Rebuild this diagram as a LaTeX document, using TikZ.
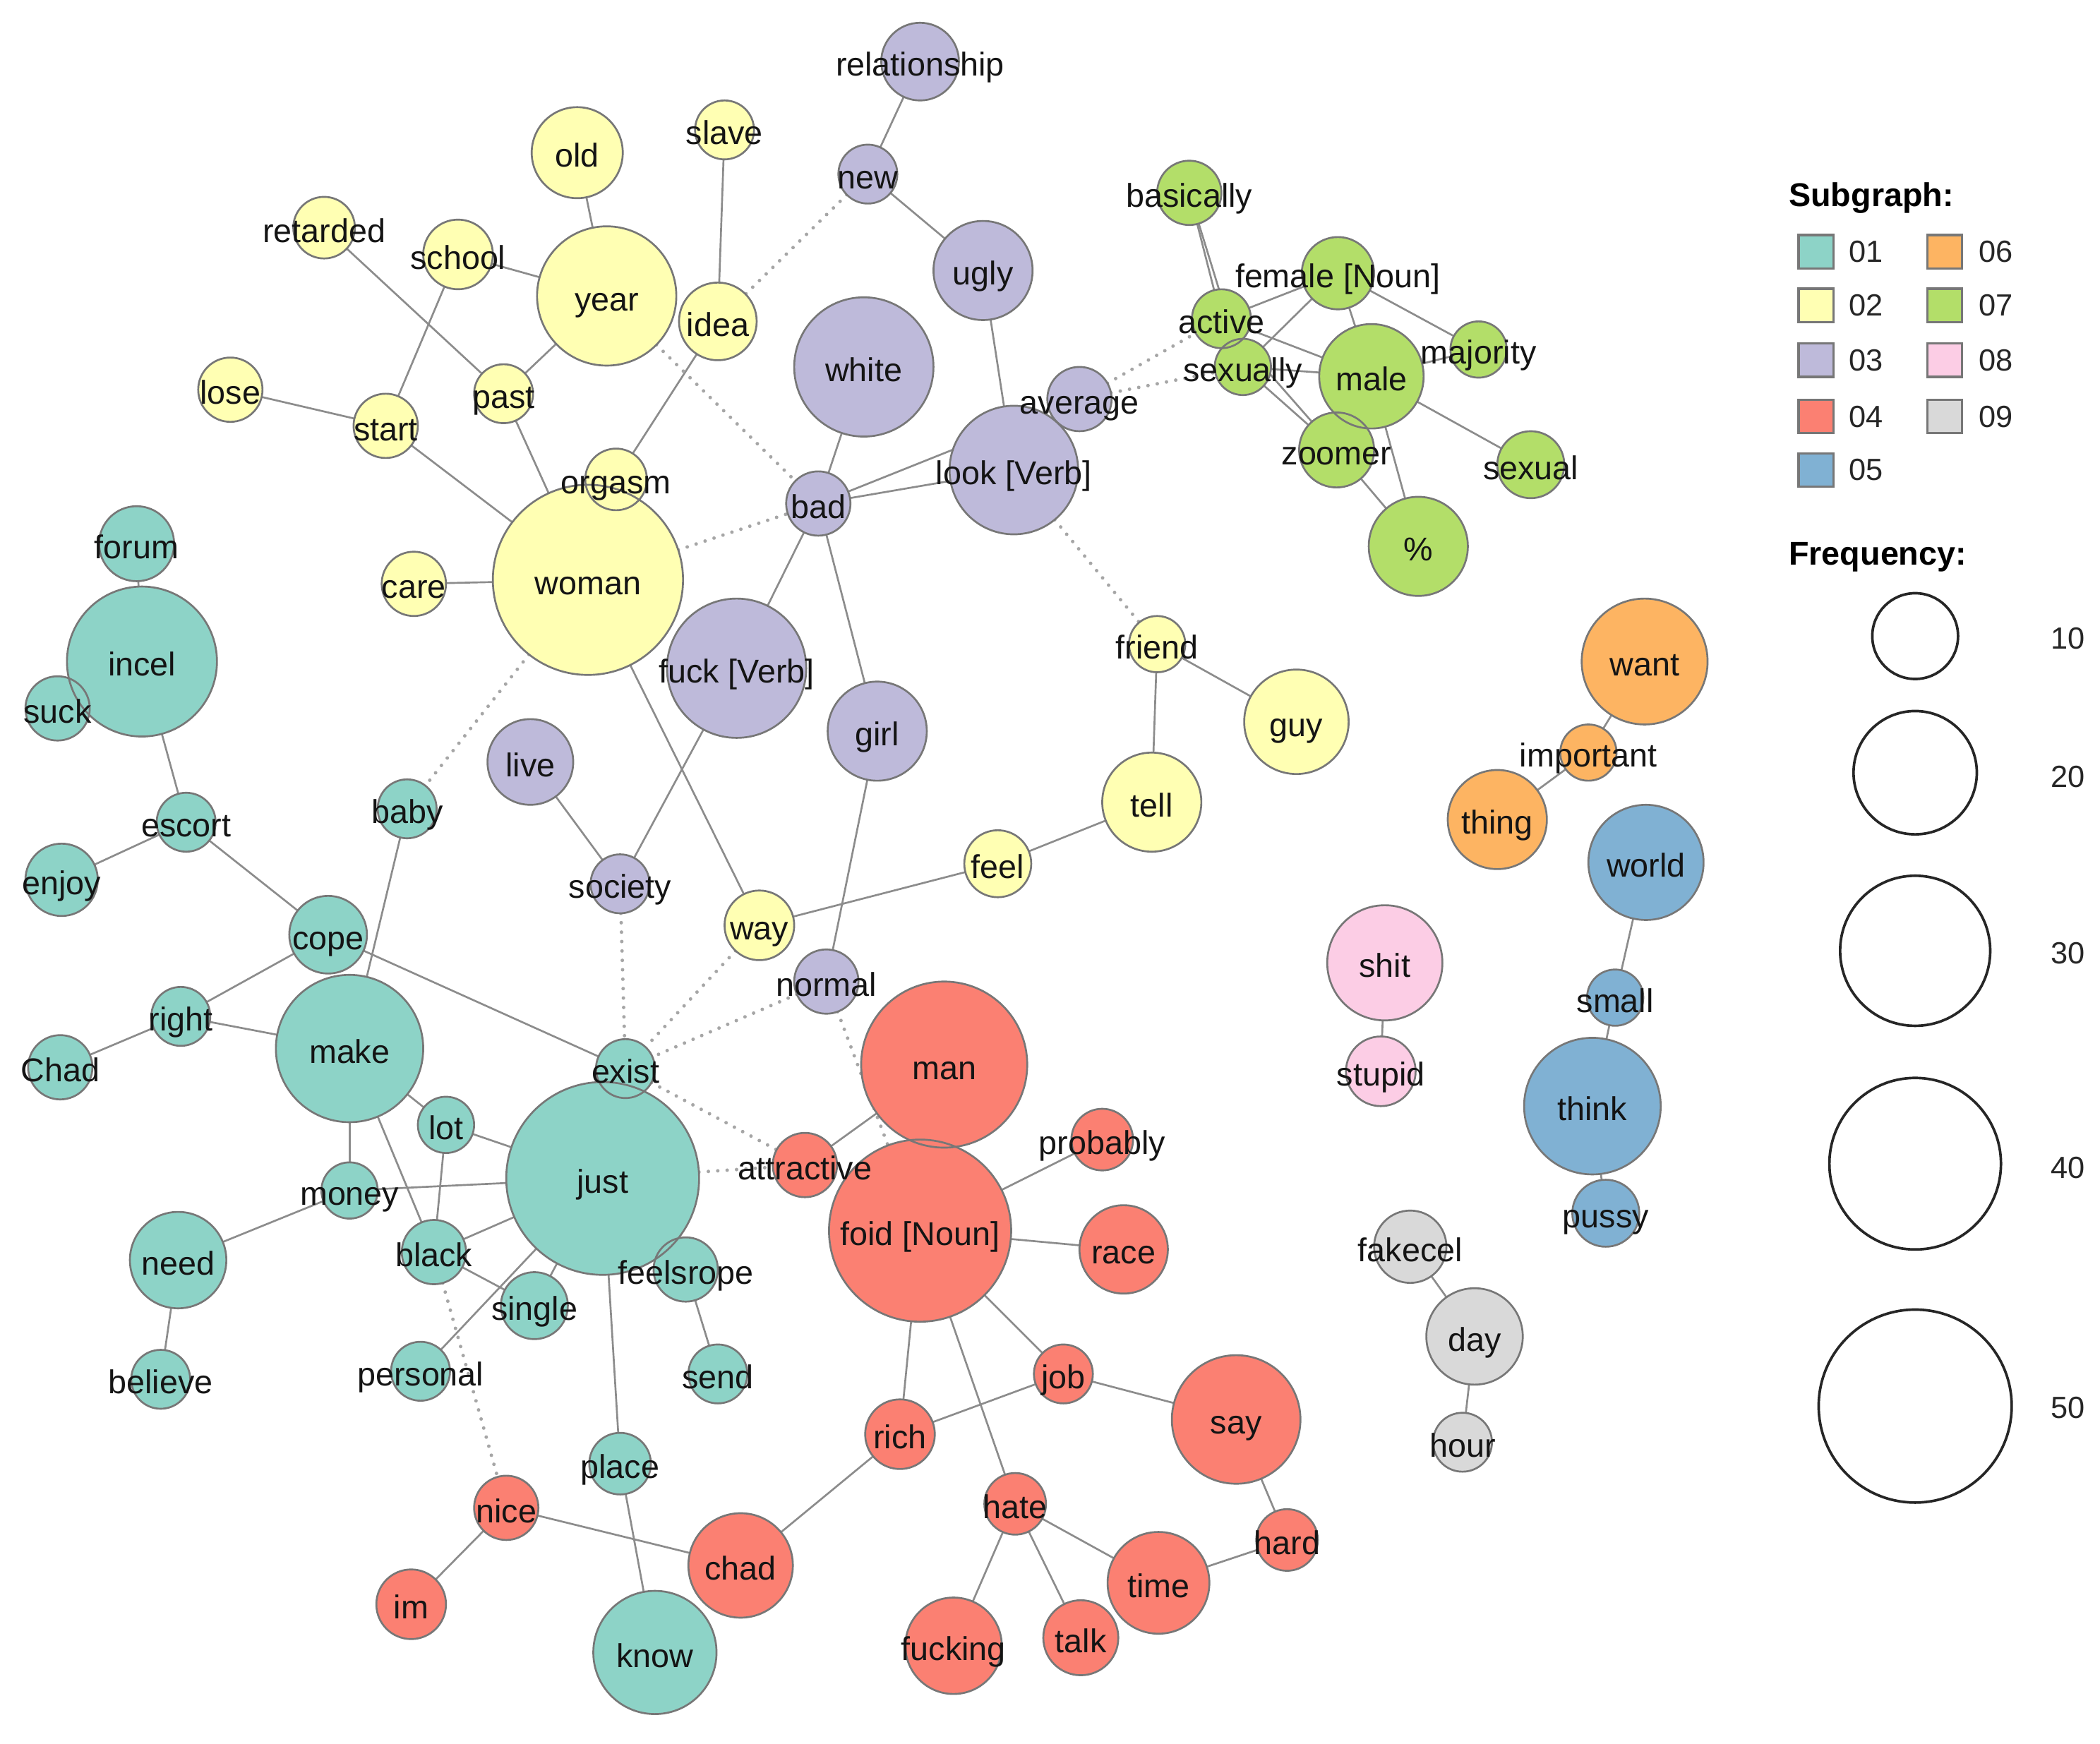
\documentclass[tikz,border=0pt]{standalone}
\usepackage{fontspec}
\setmainfont{Liberation Sans}
\pgfdeclarelayer{bg}
\pgfdeclarelayer{edges}
\pgfdeclarelayer{outl}
\pgfdeclarelayer{lab}
\pgfsetlayers{bg,edges,main,outl,lab}
\definecolor{cA}{HTML}{8DD3C7}
\definecolor{cB}{HTML}{FFFFB3}
\definecolor{cC}{HTML}{BEBADA}
\definecolor{cD}{HTML}{FB8072}
\definecolor{cE}{HTML}{80B1D3}
\definecolor{cF}{HTML}{FDB462}
\definecolor{cG}{HTML}{B3DE69}
\definecolor{cH}{HTML}{FCCDE5}
\definecolor{cI}{HTML}{D9D9D9}
\definecolor{edgecol}{HTML}{8C8C8C}
\definecolor{dotcol}{HTML}{A6A6A6}
\definecolor{rimcol}{HTML}{777777}
\tikzset{
  wnode/.style={circle,inner sep=0pt,outer sep=0pt},
  nodeline/.style={draw=rimcol,line width=0.4pt},
  lbl/.style={inner sep=0pt,font=\fontsize{7}{8}\selectfont,text=black!92,text height=0.72em,text depth=0.1em},
  edge/.style={draw=edgecol,line width=0.4pt},
  dotedge/.style={draw=dotcol,line width=0.75pt,line cap=round,dash pattern=on 0pt off 2pt},
  legtitle/.style={inner sep=0pt,anchor=west,font=\bfseries\fontsize{7}{8}\selectfont},
  legnum/.style={inner sep=0pt,anchor=west,font=\fontsize{6.5}{7.5}\selectfont,text=black!85},
  swatch/.style={draw=rimcol,line width=0.5pt,minimum width=0.26cm,minimum height=0.25cm,inner sep=0pt},
  freqcirc/.style={circle,draw=black!85,line width=0.55pt,inner sep=0pt}
}
% name, x, y, r, colour, label
\newcommand\nd[6]{%
  \node[wnode,fill=#5,minimum size=#4*0.02cm] (#1) at (#2,#3) {};
  \begin{pgfonlayer}{outl}\draw[nodeline] (#2,#3) circle[radius=#4*0.01cm];\end{pgfonlayer}
  \begin{pgfonlayer}{lab}\node[lbl] (#1-l) at (#2,#3) {#6};\end{pgfonlayer}%
}
\begin{document}
\begin{tikzpicture}[x=0.01cm,y=-0.01cm]
\useasboundingbox (0,0) rectangle (1568,1302);
\begin{pgfonlayer}{bg}\fill[white] (0,0) rectangle (1568,1302);\end{pgfonlayer}

% ---- subgraph 03 (lavender)
\nd{relationship}{687}{46}{29}{cC}{relationship}
\nd{new}{648}{130}{22}{cC}{new}
\nd{ugly}{734}{202}{37}{cC}{ugly}
\nd{white}{645}{274}{52}{cC}{white}
\nd{average}{806}{298}{24}{cC}{average}
\nd{look}{757}{351}{48}{cC}{look [Verb]}
\nd{bad}{611}{376}{24}{cC}{bad}
\nd{fuck}{550}{499}{52}{cC}{fuck [Verb]}
\nd{girl}{655}{546}{37}{cC}{girl}
\nd{live}{396}{569}{32}{cC}{live}
\nd{society}{463}{660}{22}{cC}{society}
\nd{normal}{617}{733}{24}{cC}{normal}

% ---- subgraph 02 (yellow)
\nd{old}{431}{114}{34}{cB}{old}
\nd{slave}{541}{97}{22}{cB}{slave}
\nd{retarded}{242}{170}{23}{cB}{retarded}
\nd{school}{342}{190}{26}{cB}{school}
\nd{year}{453}{221}{52}{cB}{year}
\nd{idea}{536}{240}{29}{cB}{idea}
\nd{lose}{172}{291}{24}{cB}{lose}
\nd{past}{376}{294}{22}{cB}{past}
\nd{start}{288}{318}{24}{cB}{start}
\nd{woman}{439}{433}{71}{cB}{woman}
\nd{orgasm}{460}{358}{23}{cB}{orgasm}
\nd{care}{309}{436}{24}{cB}{care}
\nd{friend}{864}{481}{21}{cB}{friend}
\nd{guy}{968}{539}{39}{cB}{guy}
\nd{tell}{860}{599}{37}{cB}{tell}
\nd{feel}{745}{645}{25}{cB}{feel}
\nd{way}{567}{691}{26}{cB}{way}

% ---- subgraph 07 (green)
\nd{basically}{888}{144}{24}{cG}{basically}
\nd{female}{999}{204}{27}{cG}{female [Noun]}
\nd{active}{912}{238}{22}{cG}{active}
\nd{sexually}{928}{274}{21}{cG}{sexually}
\nd{male}{1024}{281}{39}{cG}{male}
\nd{majority}{1104}{261}{21}{cG}{majority}
\nd{zoomer}{998}{336}{28}{cG}{zoomer}
\nd{sexual}{1143}{347}{25}{cG}{sexual}
\nd{pct}{1059}{408}{37}{cG}{\%}

% ---- subgraph 01 (teal)
\nd{forum}{102}{406}{28}{cA}{forum}
\nd{incel}{106}{494}{56}{cA}{incel}
\nd{suck}{43}{529}{24}{cA}{suck}
\nd{escort}{139}{614}{22}{cA}{escort}
\nd{baby}{304}{604}{22}{cA}{baby}
\nd{enjoy}{46}{657}{27}{cA}{enjoy}
\nd{cope}{245}{698}{29}{cA}{cope}
\nd{rightw}{135}{759}{22}{cA}{right}
\nd{bigchad}{45}{797}{24}{cA}{Chad}
\nd{make}{261}{783}{55}{cA}{make}
\nd{lot}{333}{840}{21}{cA}{lot}
\nd{just}{450}{880}{72}{cA}{just}
\nd{exist}{467}{798}{22}{cA}{exist}
\nd{money}{261}{889}{21}{cA}{money}
\nd{need}{133}{941}{36}{cA}{need}
\nd{black}{324}{935}{24}{cA}{black}
\nd{single}{399}{975}{25}{cA}{single}
\nd{feelsrope}{512}{948}{24}{cA}{feelsrope}
\nd{believe}{120}{1030}{22}{cA}{believe}
\nd{personal}{314}{1024}{22}{cA}{personal}
\nd{send}{536}{1026}{22}{cA}{send}
\nd{place}{463}{1093}{23}{cA}{place}
\nd{know}{489}{1234}{46}{cA}{know}

% ---- subgraph 04 (red)
\nd{man}{705}{795}{62}{cD}{man}
\nd{foid}{687}{919}{68}{cD}{foid [Noun]}
\nd{probably}{823}{851}{23}{cD}{probably}
\nd{attractive}{601}{870}{24}{cD}{attractive}
\nd{race}{839}{933}{33}{cD}{race}
\nd{job}{794}{1026}{22}{cD}{job}
\nd{say}{923}{1060}{48}{cD}{say}
\nd{rich}{672}{1071}{26}{cD}{rich}
\nd{hate}{758}{1123}{23}{cD}{hate}
\nd{nice}{378}{1126}{24}{cD}{nice}
\nd{chad}{553}{1169}{39}{cD}{chad}
\nd{hard}{961}{1150}{23}{cD}{hard}
\nd{time}{865}{1182}{38}{cD}{time}
\nd{im}{307}{1198}{26}{cD}{im}
\nd{fucking}{712}{1229}{36}{cD}{fucking}
\nd{talk}{807}{1223}{28}{cD}{talk}

% ---- subgraph 06 (orange)
\nd{want}{1228}{494}{47}{cF}{want}
\nd{important}{1186}{562}{21}{cF}{important}
\nd{thing}{1118}{612}{37}{cF}{thing}

% ---- subgraph 05 (blue)
\nd{world}{1229}{644}{43}{cE}{world}
\nd{small}{1206}{745}{21}{cE}{small}
\nd{think}{1189}{826}{51}{cE}{think}
\nd{pussy}{1199}{906}{25}{cE}{pussy}

% ---- subgraph 08 (pink)
\nd{shit}{1034}{719}{43}{cH}{shit}
\nd{stupid}{1031}{800}{26}{cH}{stupid}

% ---- subgraph 09 (grey)
\nd{fakecel}{1053}{931}{27}{cI}{fakecel}
\nd{day}{1101}{998}{36}{cI}{day}
\nd{hour}{1092}{1077}{22}{cI}{hour}

% ---- connectors
\begin{pgfonlayer}{edges}
\foreach \a/\b in {relationship/new,new/ugly,ugly/look,white/bad,bad/look,bad/average,
  bad/fuck,bad/girl,fuck/society,live/society,girl/normal,
  old/year,slave/idea,retarded/past,school/year,school/start,year/past,idea/orgasm,
  lose/start,start/woman,past/woman,care/woman,woman/way,friend/guy,friend/tell,
  tell/feel,feel/way,
  basically/active,basically/sexually,active/female,active/male,active/zoomer,
  sexually/female,sexually/male,sexually/zoomer,female/male,female/majority,
  male/majority,male/sexual,male/pct,zoomer/pct,
  forum/incel,incel/escort,escort/enjoy,escort/cope,cope/rightw,cope/exist,
  rightw/bigchad,rightw/make,baby/make,make/lot,make/money,make/black,lot/black,
  lot/just,money/just,money/need,need/believe,black/just,black/single,single/just,
  just/personal,feelsrope/send,just/place,place/know,
  attractive/man,foid/probably,foid/race,foid/job,foid/rich,foid/hate,job/say,
  job/rich,rich/chad,nice/chad,nice/im,say/hard,hard/time,time/hate,hate/fucking,
  hate/talk,
  want/important,important/thing,world/small,small/think,think/pussy,
  shit/stupid,fakecel/day,day/hour}
  \draw[edge] (\a) -- (\b);
\foreach \a/\b in {new/idea,year/bad,woman/bad,average/active,average/sexually,
  look/friend,woman/baby,society/exist,way/exist,normal/exist,exist/attractive,
  just/attractive,normal/foid,black/nice}
  \draw[dotedge] (\a) -- (\b);
\end{pgfonlayer}

% ---- legend
\node[legtitle] (sgtitle) at (1335,148) {Subgraph:};
\foreach \c/\t/\yy in {cA/01/188,cB/02/228,cC/03/269,cD/04/311,cE/05/351}{
  \node[swatch,fill=\c] (sw\t) at (1356,\yy) {};
  \node[legnum] (sl\t) at (1380,\yy) {\t};
}
\foreach \c/\t/\yy in {cF/06/188,cG/07/228,cH/08/269,cI/09/311}{
  \node[swatch,fill=\c] (sw\t) at (1452,\yy) {};
  \node[legnum] (sl\t) at (1477,\yy) {\t};
}
\node[legtitle] (frtitle) at (1335,416) {Frequency:};
\foreach \v/\r/\yy/\ly in {10/32/475/477,20/46/577/580,30/56/710/712,40/64/869/872,50/72/1050/1051}{
  \node[freqcirc,minimum size=\r*0.02cm] (fc\v) at (1430,\yy) {};
  \node[legnum,anchor=center] (fl\v) at (1544,\ly) {\v};
}
\end{tikzpicture}
\end{document}
